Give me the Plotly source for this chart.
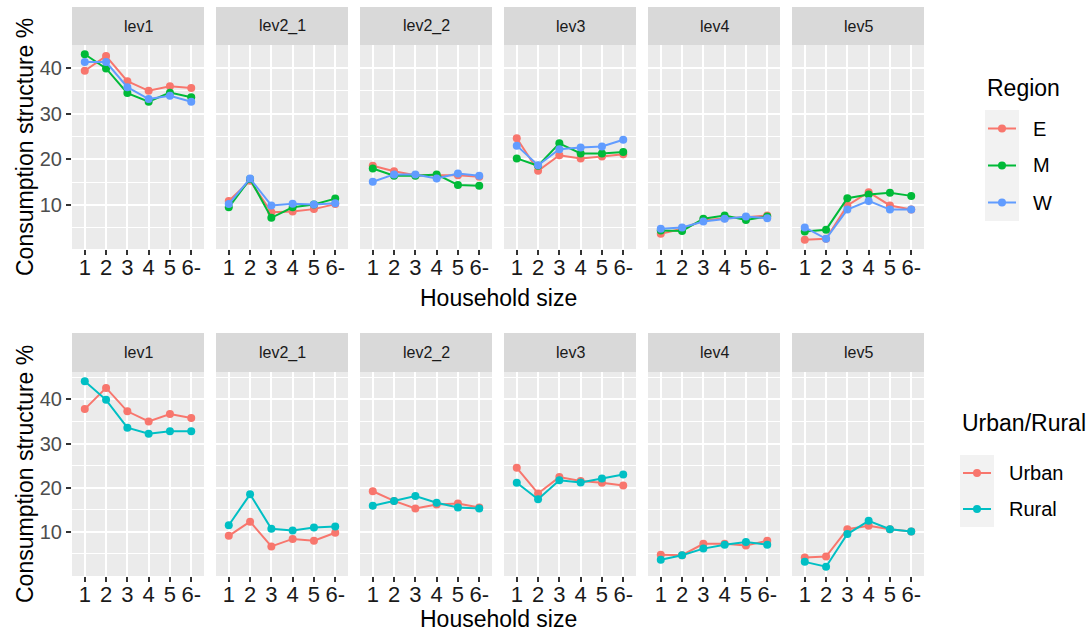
import plotly.graph_objects as go

W, H = 1091, 640
FONT = "Liberation Sans, Arial, sans-serif"

sizes = ["1", "2", "3", "4", "5", "6-"]
levels = ["lev1", "lev2_1", "lev2_2", "lev3", "lev4", "lev5"]
y_ticks = [10, 20, 30, 40]

# ---- Region (top row) ----
E_lev1 = [39.4, 42.6, 37.1, 35.0, 36.0, 35.6]
E_lev2_1 = [10.9, 15.3, 8.4, 8.6, 9.1, 10.2]
E_lev2_2 = [18.6, 17.4, 16.5, 16.5, 16.5, 16.2]
E_lev3 = [24.6, 17.5, 20.9, 20.2, 20.6, 21.1]
E_lev4 = [3.7, 4.8, 6.6, 7.1, 7.3, 7.7]
E_lev5 = [2.4, 2.6, 9.9, 12.8, 9.9, 9.0]

M_lev1 = [43.0, 39.9, 34.5, 32.6, 34.6, 33.6]
M_lev2_1 = [9.5, 15.7, 7.2, 9.5, 10.1, 11.4]
M_lev2_2 = [18.0, 16.4, 16.4, 16.7, 14.4, 14.2]
M_lev3 = [20.2, 18.6, 23.5, 21.3, 21.3, 21.6]
M_lev4 = [4.4, 4.3, 7.0, 7.7, 6.7, 7.5]
M_lev5 = [4.2, 4.6, 11.5, 12.3, 12.7, 12.0]

W_lev1 = [41.3, 41.3, 35.8, 33.2, 33.9, 32.6]
W_lev2_1 = [10.2, 15.8, 9.9, 10.3, 10.1, 10.4]
W_lev2_2 = [15.1, 16.7, 16.7, 15.8, 16.9, 16.4]
W_lev3 = [23.0, 18.7, 22.2, 22.6, 22.8, 24.3]
W_lev4 = [4.8, 5.1, 6.4, 7.0, 7.5, 7.1]
W_lev5 = [5.1, 2.6, 9.0, 10.9, 9.0, 9.0]

# ---- Urban/Rural (bottom row) ----
Urban_lev1 = [37.8, 42.6, 37.3, 35.0, 36.7, 35.8]
Urban_lev2_1 = [9.1, 12.3, 6.7, 8.4, 8.0, 9.8]
Urban_lev2_2 = [19.2, 17.0, 15.3, 16.2, 16.4, 15.5]
Urban_lev3 = [24.5, 18.7, 22.4, 21.5, 21.1, 20.5]
Urban_lev4 = [4.8, 4.7, 7.3, 7.3, 6.9, 8.0]
Urban_lev5 = [4.2, 4.4, 10.6, 11.4, 10.6, 10.1]

Rural_lev1 = [44.1, 39.9, 33.6, 32.2, 32.8, 32.8]
Rural_lev2_1 = [11.5, 18.5, 10.7, 10.3, 11.0, 11.2]
Rural_lev2_2 = [15.9, 17.0, 18.1, 16.6, 15.5, 15.3]
Rural_lev3 = [21.1, 17.4, 21.7, 21.2, 22.1, 23.0]
Rural_lev4 = [3.7, 4.7, 6.2, 7.1, 7.7, 7.1]
Rural_lev5 = [3.2, 2.1, 9.5, 12.5, 10.6, 10.1]

region_names = ["E", "M", "W"]
region_colors = ["#F8766D", "#00BA38", "#619CFF"]
region_series = [
    [E_lev1, E_lev2_1, E_lev2_2, E_lev3, E_lev4, E_lev5],
    [M_lev1, M_lev2_1, M_lev2_2, M_lev3, M_lev4, M_lev5],
    [W_lev1, W_lev2_1, W_lev2_2, W_lev3, W_lev4, W_lev5],
]
ur_names = ["Urban", "Rural"]
ur_colors = ["#F8766D", "#00BFC4"]
ur_series = [
    [Urban_lev1, Urban_lev2_1, Urban_lev2_2, Urban_lev3, Urban_lev4, Urban_lev5],
    [Rural_lev1, Rural_lev2_1, Rural_lev2_2, Rural_lev3, Rural_lev4, Rural_lev5],
]

# ---- geometry (pixels) ----
panel_left = [72, 216, 360, 504, 648, 792]
panel_w = 132
rows = [
    dict(strip=(7, 45), plot=(45, 249), names=region_names, colors=region_colors,
         series=region_series, xtitle_y=298, legend_title="Region",
         leg_title_x=985, leg_title_y=88, key_x=985, key_top=110, key_h=37, label_x=1031),
    dict(strip=(333, 372), plot=(372, 576), names=ur_names, colors=ur_colors,
         series=ur_series, xtitle_y=619, legend_title="Urban/Rural",
         leg_title_x=960, leg_title_y=423, key_x=960, key_top=455, key_h=36, label_x=1007),
]

def px(x):
    return x / W

def py(y):
    return 1 - y / H

fig = go.Figure()
layout = dict(
    width=W, height=H,
    margin=dict(l=0, r=0, t=0, b=0),
    paper_bgcolor="white",
    plot_bgcolor="#EBEBEB",
    showlegend=False,
    font=dict(family=FONT, color="#000000"),
)
shapes = []
annotations = []

n = 0
for r, row in enumerate(rows):
    allv = [v for s in row["series"] for lev in s for v in lev]
    lo, hi = min(allv), max(allv)
    pad = 0.05 * (hi - lo)
    yrange = [lo - pad, hi + pad]
    for i, lev in enumerate(levels):
        n += 1
        sfx = "" if n == 1 else str(n)
        l = panel_left[i]
        xd = [px(l), px(l + panel_w)]
        yd = [py(row["plot"][1]), py(row["plot"][0])]
        layout["xaxis" + sfx] = dict(
            domain=xd, anchor="y" + sfx, type="category",
            categoryorder="array", categoryarray=sizes,
            tickmode="array", tickvals=sizes, ticktext=sizes, tickangle=0,
            range=[-0.6, 5.6], showgrid=True, gridcolor="white", gridwidth=2,
            zeroline=False, showline=False,
            ticks="outside", ticklen=5, tickwidth=1.5, tickcolor="#333333",
            ticklabelstandoff=-6,
            tickfont=dict(size=22, color="#1A1A1A", family=FONT),
            fixedrange=True,
        )
        layout["yaxis" + sfx] = dict(
            domain=yd, anchor="x" + sfx, range=yrange,
            tickmode="array", tickvals=y_ticks, ticktext=[str(t) for t in y_ticks],
            showgrid=True, gridcolor="white", gridwidth=2,
            minor=dict(tickmode="array", tickvals=[t - 5 for t in y_ticks] + [y_ticks[-1] + 5],
                       showgrid=True, gridcolor="white", gridwidth=1, ticks=""),
            zeroline=False, showline=False,
            ticks="outside" if i == 0 else "", ticklen=5, tickwidth=1.5, tickcolor="#333333",
            showticklabels=(i == 0),
            tickfont=dict(size=20, color="#4D4D4D", family=FONT),
            fixedrange=True,
        )
        # strip
        shapes.append(dict(type="rect", xref="paper", yref="paper",
                           x0=px(l), x1=px(l + panel_w), y0=py(row["strip"][1]), y1=py(row["strip"][0]),
                           fillcolor="#D9D9D9", line=dict(width=0), layer="below"))
        annotations.append(dict(text=lev, xref="paper", yref="paper",
                                x=px(l + panel_w / 2), y=py(sum(row["strip"]) / 2),
                                xanchor="center", yanchor="middle", showarrow=False,
                                font=dict(size=16, color="#1A1A1A", family=FONT)))
        for g, name in enumerate(row["names"]):
            fig.add_trace(go.Scatter(
                x=sizes, y=row["series"][g][i], mode="lines+markers", name=name,
                line=dict(color=row["colors"][g], width=2),
                marker=dict(color=row["colors"][g], size=8),
                xaxis="x" + sfx, yaxis="y" + sfx, showlegend=False,
                hovertemplate=lev + " " + name + ": %{y}<extra></extra>",
            ))
    # axis titles
    annotations.append(dict(text="Household size", xref="paper", yref="paper",
                            x=px(panel_left[0] + (panel_left[-1] + panel_w - panel_left[0]) / 2),
                            y=py(row["xtitle_y"]), xanchor="center", yanchor="middle",
                            showarrow=False, font=dict(size=23, color="#000000", family=FONT)))
    annotations.append(dict(text="Consumption structure %", xref="paper", yref="paper",
                            x=px(25), y=py(sum(row["plot"]) / 2), textangle=-90,
                            xanchor="center", yanchor="middle",
                            showarrow=False, font=dict(size=23, color="#000000", family=FONT)))
    # legend (drawn)
    annotations.append(dict(text=row["legend_title"], xref="paper", yref="paper",
                            x=px(row["leg_title_x"]), y=py(row["leg_title_y"]),
                            xanchor="left", yanchor="middle", showarrow=False,
                            font=dict(size=23, color="#000000", family=FONT)))
    kx0 = row["key_x"]
    kw = 34
    for g, name in enumerate(row["names"]):
        ky0 = row["key_top"] + g * row["key_h"]
        ky1 = ky0 + row["key_h"]
        kyc = (ky0 + ky1) / 2
        kxc = kx0 + kw / 2
        shapes.append(dict(type="rect", xref="paper", yref="paper",
                           x0=px(kx0), x1=px(kx0 + kw), y0=py(ky1), y1=py(ky0),
                           fillcolor="#F2F2F2", line=dict(width=0)))
        shapes.append(dict(type="line", xref="paper", yref="paper",
                           x0=px(kx0 + 3), x1=px(kx0 + kw - 3), y0=py(kyc), y1=py(kyc),
                           line=dict(color=row["colors"][g], width=2)))
        shapes.append(dict(type="circle", xref="paper", yref="paper",
                           x0=px(kxc - 4), x1=px(kxc + 4), y0=py(kyc + 4), y1=py(kyc - 4),
                           fillcolor=row["colors"][g], line=dict(width=0)))
        annotations.append(dict(text=name, xref="paper", yref="paper",
                                x=px(row["label_x"]), y=py(kyc),
                                xanchor="left", yanchor="middle", showarrow=False,
                                font=dict(size=20, color="#000000", family=FONT)))

layout["shapes"] = shapes
layout["annotations"] = annotations
fig.update_layout(**layout)
fig.write_html(
    "out.html",
    config={"displayModeBar": False},
    post_script="document.body.style.margin='0';document.body.style.overflow='hidden';",
)
